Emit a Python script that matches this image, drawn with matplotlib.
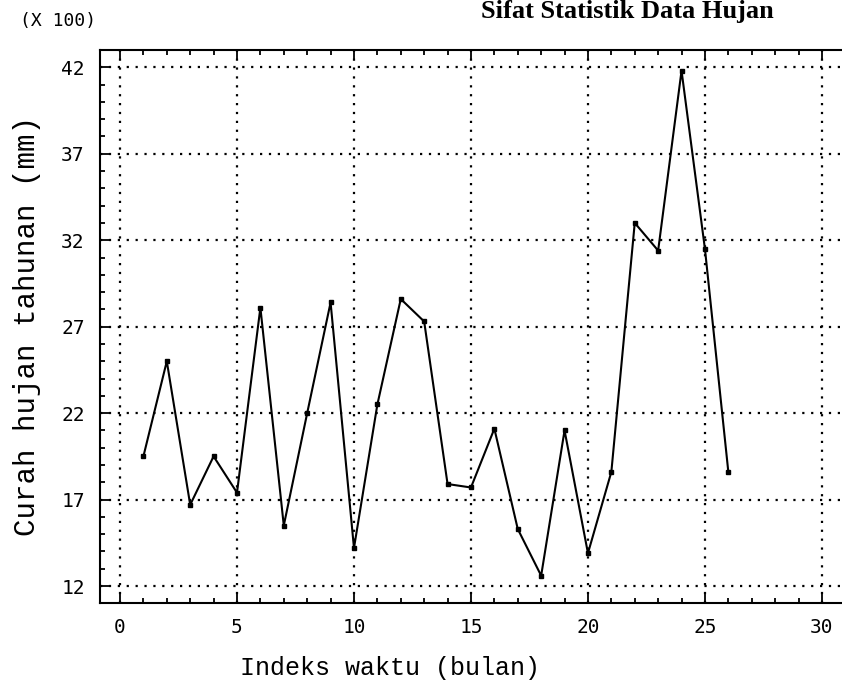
import numpy as np
import matplotlib
matplotlib.use('Agg')
import matplotlib.pyplot as plt
from matplotlib.ticker import MultipleLocator, FixedLocator

# data (values in hundreds of mm)
bulan = np.arange(1, 27)
curah = [19.5, 25.0, 16.7, 19.5, 17.4, 28.1, 15.5, 22.0, 28.4, 14.2,
         22.5, 28.6, 27.3, 17.9, 17.7, 21.1, 15.3, 12.6, 21.0, 13.9,
         18.6, 33.0, 31.4, 41.8, 31.5, 18.6]

x_ticks = [0, 5, 10, 15, 20, 25, 30]
x_labels = ['0', '5', '10', '15', '20', '25', '30']
y_ticks = [12, 17, 22, 27, 32, 37, 42]

fig = plt.figure(figsize=(8.42, 6.97), dpi=100)
# axes runs a bit past the right edge, as in the scan
ax = fig.add_axes([100/842, 94/697, 750/842, 553/697])

ax.plot(bulan, curah, color='black', lw=1.5, marker='s', ms=3.5, mfc='black', mec='black')

ax.set_xlim(-0.855, 31.2)
ax.set_ylim(11.02, 43.0)

ax.xaxis.set_major_locator(FixedLocator(x_ticks))
ax.set_xticklabels(x_labels)
ax.xaxis.set_minor_locator(MultipleLocator(1))
ax.yaxis.set_major_locator(FixedLocator(y_ticks))
ax.yaxis.set_minor_locator(MultipleLocator(1))

ax.grid(True, which='major', color='black', lw=1.6, linestyle=(0, (1, 3)))

ax.tick_params(which='both', direction='in', top=True, right=False, width=1.3)
ax.tick_params(which='major', length=7, labelsize=14, pad=11)
ax.tick_params(which='minor', length=3.5)
for lab in ax.get_xticklabels() + ax.get_yticklabels():
    lab.set_family('DejaVu Sans Mono')

for sp in ax.spines.values():
    sp.set_linewidth(1.5)

ax.set_xlabel('Indeks waktu (bulan)', family='Liberation Mono', fontsize=18)
ax.xaxis.set_label_coords(0.387, -0.117)
ax.xaxis.label.set_verticalalignment('center')

ax.set_ylabel('Curah hujan tahunan (mm)', family='Liberation Mono', fontsize=21)
ax.yaxis.set_label_coords(-0.097, 0.5)
ax.yaxis.label.set_verticalalignment('center')

fig.text(20/842, 1 - 21/697, '(X 100)', family='DejaVu Sans Mono', fontsize=13,
         ha='left', va='center')
# title sits right at the top edge in the original scan
fig.text(627/842, 1 - 18/697, 'Sifat Statistik Data Hujan', family='Liberation Serif',
         fontweight='bold', fontsize=19, ha='center', va='baseline')

fig.savefig('out.png', dpi=100)
